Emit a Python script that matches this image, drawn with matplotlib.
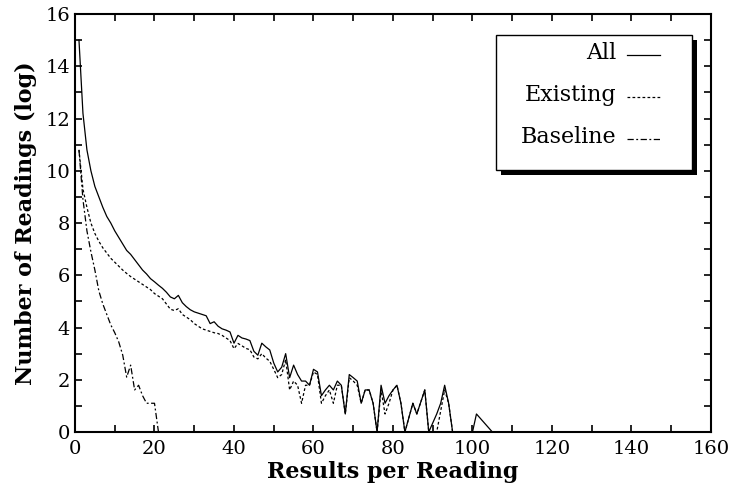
import matplotlib
matplotlib.use("Agg")
import matplotlib.pyplot as plt
from matplotlib.patches import Rectangle
from matplotlib.lines import Line2D

# Results per reading (x) and log count of readings (y)
all_x = [1, 2, 3, 4, 5, 6, 7, 8, 9, 10, 11, 12, 13, 14, 15, 16, 17, 18, 19, 20,
         21, 22, 23, 24, 25, 26, 27, 28, 29, 30, 31, 32, 33, 34, 35, 36, 37, 38, 39, 40,
         41, 42, 43, 44, 45, 46, 47, 48, 49, 50, 51, 52, 53, 54, 55, 56, 57, 58, 59, 60,
         61, 62, 63, 64, 65, 66, 67, 68, 69, 70, 71, 72, 73, 74, 75, 76, 77, 78, 79, 80,
         81, 82, 83, 85, 86, 88, 89, 91, 92, 93, 94, 95, 100, 101, 105]
all_y = [15.0, 12.2, 10.8, 10.0, 9.4, 9.0, 8.6, 8.25, 8.0, 7.7, 7.45, 7.2, 6.95, 6.8, 6.6, 6.4, 6.2, 6.05, 5.87, 5.75,
         5.62, 5.5, 5.35, 5.17, 5.1, 5.23, 4.95, 4.8, 4.68, 4.6, 4.55, 4.5, 4.45, 4.15, 4.22, 4.05, 3.95, 3.9, 3.83, 3.4,
         3.7, 3.6, 3.56, 3.5, 3.09, 2.94, 3.4, 3.26, 3.14, 2.64, 2.3, 2.48, 3.0, 2.08, 2.56, 2.2, 1.95, 1.95, 1.79, 2.4,
         2.3, 1.39, 1.61, 1.79, 1.61, 1.95, 1.79, 0.69, 2.2, 2.08, 1.95, 1.1, 1.61, 1.61, 1.1, 0.0, 1.79, 1.1, 1.39, 1.61,
         1.79, 1.1, 0.0, 1.1, 0.69, 1.61, 0.0, 0.69, 1.1, 1.79, 1.1, 0.0, 0.0, 0.69, 0.0]

existing_x = [1, 2, 3, 4, 5, 6, 7, 8, 9, 10, 11, 12, 13, 14, 15, 16, 17, 18, 19, 20,
              21, 22, 23, 24, 25, 26, 27, 28, 29, 30, 31, 32, 33, 34, 35, 36, 37, 38, 39, 40,
              41, 42, 43, 44, 45, 46, 47, 48, 49, 50, 51, 52, 53, 54, 55, 56, 57, 58, 59, 60,
              61, 62, 63, 64, 65, 66, 67, 68, 69, 70, 71, 72, 73, 74, 75, 76, 77, 78, 79, 80,
              81, 82, 83, 85, 86, 88, 89, 91, 93, 94, 95]
existing_y = [10.8, 9.3, 8.6, 8.0, 7.6, 7.3, 7.05, 6.85, 6.65, 6.5, 6.35, 6.2, 6.07, 5.95, 5.85, 5.75, 5.65, 5.55, 5.45, 5.3,
              5.2, 5.1, 4.9, 4.7, 4.65, 4.72, 4.5, 4.4, 4.3, 4.15, 4.05, 3.95, 3.9, 3.85, 3.8, 3.77, 3.7, 3.6, 3.5, 3.19,
              3.39, 3.3, 3.2, 3.15, 2.87, 2.8, 3.0, 2.83, 2.71, 2.4, 2.08, 2.2, 2.77, 1.61, 1.95, 1.79, 1.1, 1.79, 1.79, 2.3,
              2.2, 1.1, 1.39, 1.61, 1.1, 1.79, 1.79, 0.69, 2.08, 1.95, 1.79, 1.1, 1.61, 1.61, 1.1, 0.0, 1.61, 0.69, 1.1, 1.61,
              1.79, 1.1, 0.0, 1.1, 0.69, 1.61, 0.0, 0.0, 1.61, 1.1, 0.0]

baseline_x = [1, 2, 3, 4, 5, 6, 7, 8, 9, 10, 11, 12, 13, 14, 15, 16, 17, 18, 19, 20, 21]
baseline_y = [10.8, 8.9, 7.7, 6.9, 6.2, 5.4, 4.9, 4.5, 4.1, 3.8, 3.45, 2.95, 2.1, 2.56, 1.61, 1.79, 1.39, 1.1, 1.1, 1.1, 0.0]

series_labels = ["All", "Existing", "Baseline"]
x_ticks = [0, 20, 40, 60, 80, 100, 120, 140, 160]
y_ticks = [0, 2, 4, 6, 8, 10, 12, 14, 16]


def main() -> None:
    plt.rcParams["font.family"] = ["DejaVu Serif"]

    fig = plt.figure(figsize=(7.31, 4.86), dpi=100)
    ax = fig.add_axes([0.1026, 0.1111, 0.870, 0.860])

    styles = ["-", (0, (2.2, 1.8)), (0, (5, 2, 1.5, 2))]
    data = [(all_x, all_y), (existing_x, existing_y), (baseline_x, baseline_y)]
    for (xs, ys), ls in zip(data, styles):
        ax.plot(xs, ys, color="black", linestyle=ls, linewidth=0.9)

    ax.set_xlim(0, 160)
    ax.set_ylim(0, 16)
    ax.set_xticks(x_ticks)
    ax.set_yticks(y_ticks)
    ax.set_xticks(range(10, 160, 20), minor=True)
    ax.set_yticks(range(1, 16, 2), minor=True)
    ax.tick_params(which="both", direction="in", top=True, right=True,
                   length=5, width=1.2, labelsize=14)
    ax.tick_params(axis="x", pad=6)
    for sp in ax.spines.values():
        sp.set_linewidth(1.5)

    ax.set_xlabel("Results per Reading", fontsize=16, fontweight="bold", labelpad=2)
    ax.set_ylabel("Number of Readings (log)", fontsize=16, fontweight="bold", labelpad=6)

    # legend box in gnuplot style: label on the left, sample on the right
    bx0, bx1, by0, by1 = 0.662, 0.970, 0.627, 0.950
    ax.add_patch(Rectangle((bx0 + 0.008, by0 - 0.012), bx1 - bx0, by1 - by0,
                           transform=ax.transAxes, facecolor="black",
                           edgecolor="none", zorder=4, clip_on=False))
    ax.add_patch(Rectangle((bx0, by0), bx1 - bx0, by1 - by0,
                           transform=ax.transAxes, facecolor="white",
                           edgecolor="black", linewidth=1.0, zorder=5, clip_on=False))
    rows = [0.907, 0.806, 0.706]
    for label, ls, ty in zip(series_labels, styles, rows):
        ax.text(0.852, ty, label, transform=ax.transAxes, ha="right", va="center",
                fontsize=16, zorder=6)
        ax.add_line(Line2D([0.868, 0.920], [ty - 0.005, ty - 0.005], transform=ax.transAxes,
                           color="black", linestyle=ls, linewidth=0.9, zorder=6))

    fig.savefig("out.png", dpi=100)
    plt.close(fig)


if __name__ == "__main__":
    main()
